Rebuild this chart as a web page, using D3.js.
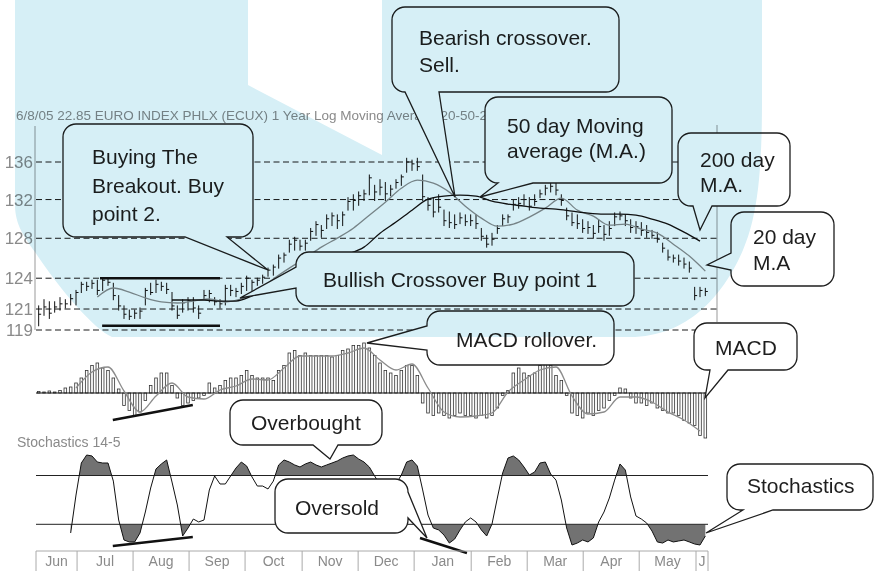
<!DOCTYPE html>
<html>
<head>
    <title>Euro Index - Moving Averages, MACD and Stochastics</title>
    <meta charset="UTF-8">
    <style>
        body {
            margin: 0;
            padding: 0;
            background-color: white;
        }
        svg {
            display: block;
            font-family: "Liberation Sans", Arial, sans-serif;
        }
        .grid {
            stroke: #1a1a1a;
            stroke-width: 1px;
            stroke-dasharray: 6, 3.5;
        }
        .axisText {
            fill: #8a8a8a;
        }
        .callout {
            fill: white;
            stroke: #1e1e1e;
            stroke-width: 1.3px;
        }
        .calloutText {
            fill: #1e1e1e;
            font-size: 21px;
        }
        .thick {
            stroke: #111;
            stroke-width: 2.6px;
        }
    </style>
    <script src="https://d3js.org/d3.v7.min.js"></script>
</head>
<body>
<div id="chart"></div>
<script>
    // one bar = two trading days, Jun 8 2005 .. Jun 8 2006
    var high = [121.3,121.9,121.7,121.7,122.1,121.9,122.4,122.8,123.6,123.6,
        123.8,123.8,124.0,124.0,123.5,122.3,121.3,120.9,120.9,121.1,
        123.0,123.5,123.8,123.6,123.5,122.6,121.3,121.9,122.1,122.1,
        121.3,122.8,122.8,122.1,121.9,123.3,123.3,123.0,123.5,124.2,
        123.8,124.0,124.3,125.0,125.3,126.3,126.5,127.8,128.1,127.8,
        127.8,129.0,129.7,129.3,130.4,130.6,130.4,130.7,132.2,132.5,
        132.8,133.0,134.6,133.5,134.1,133.8,133.5,134.1,134.6,136.4,
        136.2,136.4,134.6,132.2,132.2,132.5,130.9,130.7,130.4,130.6,
        130.4,130.4,130.4,129.0,128.3,128.5,129.3,130.4,130.4,131.9,
        132.2,132.5,132.2,132.5,133.0,133.5,133.8,133.8,132.5,131.1,
        130.6,130.4,129.9,129.7,129.3,129.9,129.3,129.7,130.6,130.7,
        130.4,129.9,129.7,129.6,129.3,128.8,128.6,127.5,126.8,126.3,
        126.3,126.0,125.6,123.1,123.1,123.0];
    var low = [119.4,120.4,120.1,120.7,120.9,121.1,121.4,121.4,122.6,122.8,
        123.0,122.4,122.8,123.3,121.9,120.9,120.1,120.0,120.1,120.1,
        121.4,122.4,122.6,122.8,122.5,120.9,120.1,120.7,120.9,120.7,
        120.1,121.9,121.7,121.4,121.1,121.4,122.3,122.2,122.5,122.8,
        122.8,123.3,123.5,124.2,124.3,125.0,125.6,126.6,126.8,126.8,
        126.8,127.8,128.3,128.1,129.0,129.3,129.0,129.3,130.9,130.9,
        131.4,131.9,132.5,131.9,132.5,131.9,132.4,133.2,133.5,134.9,
        135.1,135.1,131.9,130.9,130.2,130.7,129.3,129.1,129.0,129.5,
        129.3,129.3,129.0,127.8,127.1,127.3,128.5,129.3,129.6,130.9,
        131.1,131.4,130.9,131.4,132.2,132.5,132.8,132.5,131.4,129.9,
        129.3,129.0,128.6,128.5,128.0,128.6,127.8,128.3,129.3,129.9,
        129.3,128.6,128.5,128.3,128.1,128.0,127.6,126.6,125.8,125.6,
        125.3,125.0,124.6,121.9,122.2,122.3];
    var close = [120.5,121.2,120.6,121.2,121.5,121.5,122.0,122.6,123.4,123.2,
        123.5,122.8,123.8,123.6,122.3,121.3,120.5,120.3,120.6,120.8,
        122.8,122.6,123.4,123.2,122.9,121.3,120.4,121.6,121.8,121.1,
        120.6,122.3,122.5,121.7,121.5,123.0,122.8,122.7,123.2,124.0,
        123.6,123.8,124.1,124.8,125.1,126.0,126.3,127.4,127.8,127.2,
        127.5,128.7,129.4,128.8,130.0,130.3,129.8,130.4,131.8,131.9,
        132.4,132.6,134.3,132.8,133.3,132.6,133.1,133.8,134.4,136.0,
        135.8,135.5,132.3,131.4,130.7,131.2,129.8,129.6,129.4,130.1,
        129.7,129.8,129.5,128.2,127.4,127.9,129.0,130.0,130.2,131.5,
        131.6,132.0,131.3,131.8,132.6,133.2,133.4,133.0,131.9,130.3,
        129.6,129.5,129.0,129.1,128.5,129.2,128.4,129.0,130.2,130.3,
        129.8,129.1,129.2,128.8,128.6,128.3,127.9,127.0,126.1,126.0,
        125.7,125.4,125.0,122.3,122.8,122.7];

    // moving averages, read every 3rd bar
    var ma20Start = 11;
    var ma20 = [122.16,123.04,122.64,122.07,121.68,121.58,121.77,121.97,121.68,121.97,
        122.64,123.92,125.00,126.00,127.10,128.02,129.03,130.37,131.73,133.20,
        134.05,133.73,132.78,131.31,130.07,129.24,129.45,130.17,131.10,132.15,
        130.89,130.27,129.34,129.45,128.93,128.52,127.40,126.20,124.70];
    var ma50Start = 25;
    var ma50 = [121.87,121.87,121.87,121.77,121.77,122.26,122.94,123.72,124.51,125.20,
        125.90,126.40,127.10,128.52,129.66,130.89,132.04,132.36,132.46,132.36,
        131.83,131.52,131.31,131.10,131.00,130.79,130.58,130.48,130.48,130.37,
        129.97,129.45,128.62,127.71];

    var macd = [0.03,0.02,0.04,0.02,0.05,0.1,0.12,0.2,0.3,0.45,
        0.55,0.6,0.5,0.45,0.3,0.08,-0.25,-0.35,-0.45,-0.38,
        -0.15,0.15,0.3,0.4,0.4,0.15,-0.1,-0.25,-0.2,-0.15,
        -0.1,-0.05,0.2,0.1,0.15,0.25,0.3,0.3,0.35,0.45,
        0.35,0.3,0.3,0.3,0.25,0.45,0.55,0.8,0.85,0.75,
        0.8,0.75,0.75,0.75,0.75,0.72,0.75,0.85,0.88,0.95,
        0.95,1.0,0.9,0.75,0.6,0.45,0.4,0.35,0.45,0.55,
        0.55,0.35,-0.2,-0.4,-0.45,-0.4,-0.45,-0.5,-0.45,-0.4,
        -0.45,-0.45,-0.5,-0.45,-0.5,-0.45,-0.3,-0.05,0.05,0.4,
        0.5,0.4,0.35,0.4,0.55,0.6,0.55,0.35,0.25,-0.05,
        -0.4,-0.45,-0.5,-0.4,-0.45,-0.35,-0.3,-0.15,-0.05,0.1,
        0.08,-0.1,-0.2,-0.2,-0.25,-0.2,-0.3,-0.35,-0.4,-0.4,
        -0.45,-0.55,-0.6,-0.65,-0.85,-0.9];
    var signalStart = 7;
    var signal = [0.1,0.42,0.52,0.04,-0.38,-0.06,0.2,-0.08,-0.12,0.06,
        0.14,0.28,0.26,0.5,0.74,0.74,0.74,0.8,0.9,0.66,
        0.46,0.58,0.1,-0.38,-0.48,-0.46,-0.4,0.02,0.26,0.46,
        0.52,-0.06,-0.42,-0.38,-0.08,-0.08,-0.18,-0.38,-0.54,-0.76];

    var stochStart = 6;
    var stoch = [16.1,55.0,87.8,96.0,95.0,88.8,87.8,87.8,69.3,29.4,
        8.9,6.9,6.9,16.1,37.6,62.2,81.7,86.8,90.9,68.3,
        44.8,13.0,21.2,30.4,27.4,29.4,60.2,74.5,66.3,66.3,
        74.5,82.7,88.8,84.7,73.5,64.2,64.2,61.2,69.3,85.8,
        90.9,88.8,85.8,83.7,86.8,88.8,85.8,83.7,85.8,87.8,
        89.9,92.9,95.0,96.0,91.9,88.8,83.7,74.5,65.3,58.1,
        60.2,66.3,75.5,88.8,90.9,84.7,60.2,34.5,21.2,19.2,
        14.0,5.8,9.9,19.2,27.4,31.5,27.4,19.2,13.0,25.3,
        51.9,77.6,92.9,95.0,90.9,83.7,75.5,78.6,87.8,88.8,
        76.5,70.3,49.9,21.2,3.8,5.8,8.9,6.9,11.0,27.4,
        37.6,51.9,70.3,86.8,80.6,53.0,33.5,30.4,26.3,18.1,
        6.9,5.8,8.9,6.9,7.9,8.9,6.9,4.8,3.8,13.0];

    var priceTicks = [119, 121, 124, 128, 132, 136];
    var months = ["Jun", "Jul", "Aug", "Sep", "Oct", "Nov", "Dec", "Jan", "Feb", "Mar", "Apr", "May", "J"];
    var monthEdges = [0, 7.7, 18.2, 28.7, 39.2, 49.9, 60.4, 70.9, 81.6, 92.1, 102.6, 113.1, 123.75, 126];

    var width = 874, height = 571;
    var n = high.length;

    var x = d3.scaleLinear().domain([0, n]).range([36, 708]);
    var yPrice = d3.scaleLog().domain([119, 136]).range([330, 162]);
    var yMacd = d3.scaleLinear().domain([-1, 1]).range([443, 343]);
    var yStoch = d3.scaleLinear().domain([0, 100]).range([548.7, 451.1]);

    function cx(i) { return x(i + 0.5); }

    var svg = d3.select("#chart").append("svg")
        .attr("width", width)
        .attr("height", height);

    svg.append("rect").attr("width", width).attr("height", height).attr("fill", "white");

    // ---- price panel ----
    svg.append("text")
        .attr("class", "axisText")
        .attr("x", 16).attr("y", 120)
        .style("font-size", "13.5px")
        .text("6/8/05 22.85 EURO INDEX PHLX (ECUX) 1 Year Log Moving Average 20-50-200");

    svg.append("line").attr("x1", 35).attr("x2", 35).attr("y1", 126).attr("y2", 330)
        .attr("stroke", "#999");
    svg.append("line").attr("x1", 717).attr("x2", 717).attr("y1", 125).attr("y2", 322)
        .attr("stroke", "#999");

    svg.selectAll(".grid").data(priceTicks).enter().append("line")
        .attr("class", "grid")
        .attr("x1", 36).attr("x2", 717)
        .attr("y1", function (d) { return yPrice(d); })
        .attr("y2", function (d) { return yPrice(d); });

    svg.selectAll(".priceLabel").data(priceTicks).enter().append("text")
        .attr("class", "axisText priceLabel")
        .attr("x", 33)
        .attr("y", function (d) { return yPrice(d); })
        .attr("dy", "0.36em")
        .attr("text-anchor", "end")
        .style("font-size", "17px")
        .text(function (d) { return d; });

    var bars = svg.append("g").attr("stroke", "#111").attr("stroke-width", 1);
    high.forEach(function (h, i) {
        bars.append("line")
            .attr("x1", cx(i)).attr("x2", cx(i))
            .attr("y1", yPrice(h) - 0.5).attr("y2", yPrice(low[i]) + 0.5);
        bars.append("line")
            .attr("x1", cx(i)).attr("x2", cx(i) + 2.5)
            .attr("y1", yPrice(close[i])).attr("y2", yPrice(close[i]));
    });

    var priceLine = d3.line()
        .x(function (d) { return cx(d.i); })
        .y(function (d) { return yPrice(d.v); })
        .curve(d3.curveMonotoneX);

    var ma20Pts = ma20.map(function (v, k) { return {i: ma20Start + k * 3, v: v}; });
    var ma50Pts = ma50.map(function (v, k) { return {i: ma50Start + k * 3, v: v}; });

    svg.append("path").datum(ma20Pts)
        .attr("d", priceLine)
        .attr("fill", "none").attr("stroke", "#8c8c8c").attr("stroke-width", 1.3);
    svg.append("path").datum(ma50Pts)
        .attr("d", priceLine)
        .attr("fill", "none").attr("stroke", "#111").attr("stroke-width", 1.3);

    // resistance / support marks
    svg.append("line").attr("class", "thick")
        .attr("x1", x(12)).attr("x2", x(34.5))
        .attr("y1", yPrice(124)).attr("y2", yPrice(124));
    svg.append("line").attr("class", "thick")
        .attr("x1", x(12.4)).attr("x2", x(34.5))
        .attr("y1", yPrice(119.4)).attr("y2", yPrice(119.4));

    // ---- MACD panel ----
    svg.append("g").selectAll("rect").data(macd).enter().append("rect")
        .attr("x", function (d, i) { return cx(i) - 1.3; })
        .attr("width", 2.6)
        .attr("y", function (d) { return Math.min(yMacd(d), yMacd(0)); })
        .attr("height", function (d) { return Math.abs(yMacd(d) - yMacd(0)); })
        .attr("fill", "white")
        .attr("stroke", "#333")
        .attr("stroke-width", 0.8);

    svg.append("line").attr("x1", 36).attr("x2", 706)
        .attr("y1", yMacd(0)).attr("y2", yMacd(0))
        .attr("stroke", "#111").attr("stroke-width", 1.2);

    var signalPts = signal.map(function (v, k) { return {i: signalStart + k * 3, v: v}; });
    svg.append("path").datum(signalPts)
        .attr("d", d3.line()
            .x(function (d) { return cx(d.i); })
            .y(function (d) { return yMacd(d.v); })
            .curve(d3.curveMonotoneX))
        .attr("fill", "none").attr("stroke", "#8c8c8c").attr("stroke-width", 1.3);

    svg.append("line").attr("class", "thick")
        .attr("x1", x(14.4)).attr("x2", x(29.4))
        .attr("y1", yMacd(-0.54)).attr("y2", yMacd(-0.24));

    // ---- Stochastics panel ----
    svg.append("text")
        .attr("class", "axisText")
        .attr("x", 17).attr("y", 447)
        .style("font-size", "14px")
        .text("Stochastics 14-5");

    var stochPts = stoch.map(function (v, k) { return {i: stochStart + k, v: v}; });

    var defs = svg.append("defs");
    defs.append("clipPath").attr("id", "clipHigh").append("rect")
        .attr("x", 0).attr("y", 0).attr("width", width).attr("height", yStoch(75));
    defs.append("clipPath").attr("id", "clipLow").append("rect")
        .attr("x", 0).attr("y", yStoch(25)).attr("width", width).attr("height", 100);

    svg.append("path").datum(stochPts)
        .attr("clip-path", "url(#clipHigh)")
        .attr("fill", "#727272")
        .attr("d", d3.area()
            .x(function (d) { return cx(d.i); })
            .y0(yStoch(75))
            .y1(function (d) { return yStoch(d.v); }));
    svg.append("path").datum(stochPts)
        .attr("clip-path", "url(#clipLow)")
        .attr("fill", "#727272")
        .attr("d", d3.area()
            .x(function (d) { return cx(d.i); })
            .y0(yStoch(25))
            .y1(function (d) { return yStoch(d.v); }));

    [75, 25].forEach(function (lv) {
        svg.append("line").attr("x1", 36).attr("x2", 708)
            .attr("y1", yStoch(lv)).attr("y2", yStoch(lv))
            .attr("stroke", "#222").attr("stroke-width", 1);
    });

    svg.append("path").datum(stochPts)
        .attr("fill", "none").attr("stroke", "#111").attr("stroke-width", 1)
        .attr("d", d3.line()
            .x(function (d) { return cx(d.i); })
            .y(function (d) { return yStoch(d.v); }));

    svg.append("line").attr("class", "thick")
        .attr("x1", x(14.4)).attr("x2", x(29.4))
        .attr("y1", yStoch(2.8)).attr("y2", yStoch(12));
    svg.append("line").attr("class", "thick")
        .attr("x1", x(72)).attr("x2", x(80.8))
        .attr("y1", yStoch(11)).attr("y2", yStoch(-4.4));

    // ---- month axis ----
    svg.append("line").attr("x1", x(0)).attr("x2", x(n))
        .attr("y1", 551).attr("y2", 551)
        .attr("stroke", "#aaa");
    svg.selectAll(".monthTick").data(monthEdges).enter().append("line")
        .attr("x1", function (d) { return x(d); })
        .attr("x2", function (d) { return x(d); })
        .attr("y1", 551).attr("y2", 571)
        .attr("stroke", "#aaa");
    svg.selectAll(".monthLabel").data(months).enter().append("text")
        .attr("class", "axisText")
        .attr("x", function (d, i) { return (x(monthEdges[i]) + x(monthEdges[i + 1])) / 2; })
        .attr("y", 566)
        .attr("text-anchor", "middle")
        .style("font-size", "14px")
        .text(function (d) { return d; });

    // ---- callouts ----
    var callouts = [
        {x: 63, y: 124, w: 190, h: 113, tail: {side: "bottom", a: 185, b: 227, tip: [268, 270]},
            lines: ["Buying The", "Breakout. Buy", "point 2."], tx: 92, ty: [164, 193, 221]},
        {x: 392, y: 7, w: 227, h: 85, tail: {side: "bottom", a: 405, b: 439, tip: [455, 197]},
            lines: ["Bearish crossover.", "Sell."], tx: 419, ty: [45, 72]},
        {x: 485, y: 97, w: 187, h: 86, tail: {side: "bottom", a: 498, b: 533, tip: [480, 197]},
            lines: ["50 day Moving", "average (M.A.)"], tx: 507, ty: [133, 158]},
        {x: 678, y: 133, w: 112, h: 73, tail: {side: "bottom", a: 693, b: 712, tip: [700, 230]},
            lines: ["200 day", "M.A."], tx: 700, ty: [167, 192]},
        {x: 731, y: 212, w: 103, h: 74, tail: {side: "left", a: 253, b: 270, tip: [707, 265]},
            lines: ["20 day", "M.A"], tx: 753, ty: [244, 270]},
        {x: 296, y: 252, w: 338, h: 54, tail: {side: "left", a: 267, b: 288, tip: [240, 298]},
            lines: ["Bullish Crossover Buy point 1"], tx: 323, ty: [287]},
        {x: 427, y: 311, w: 187, h: 54, tail: {side: "left", a: 326, b: 350, tip: [367, 343]},
            lines: ["MACD rollover."], tx: 456, ty: [347]},
        {x: 694, y: 323, w: 103, h: 47, tail: {side: "bottom", a: 710, b: 728, tip: [705, 398]},
            lines: ["MACD"], tx: 715, ty: [355]},
        {x: 230, y: 400, w: 152, h: 45, tail: {side: "bottom", a: 313, b: 338, tip: [330, 459]},
            lines: ["Overbought"], tx: 251, ty: [430]},
        {x: 275, y: 479, w: 133, h: 54, tail: {side: "right", a: 492, b: 518, tip: [427, 538]},
            lines: ["Oversold"], tx: 295, ty: [515]},
        {x: 727, y: 464, w: 146, h: 46, tail: {side: "bottom", a: 743, b: 773, tip: [706, 533]},
            lines: ["Stochastics"], tx: 747, ty: [493]}
    ];

    function calloutPath(c) {
        var r = 13, t = c.tail,
            x0 = c.x, y0 = c.y, x1 = c.x + c.w, y1 = c.y + c.h,
            tip = "L" + t.tip[0] + "," + t.tip[1],
            p = [];
        p.push("M" + (x0 + r) + "," + y0, "H" + (x1 - r));
        p.push("A" + r + "," + r + " 0 0 1 " + x1 + "," + (y0 + r));
        if (t.side === "right") p.push("V" + t.a, tip, "L" + x1 + "," + t.b);
        p.push("V" + (y1 - r));
        p.push("A" + r + "," + r + " 0 0 1 " + (x1 - r) + "," + y1);
        if (t.side === "bottom") p.push("H" + t.b, tip, "L" + t.a + "," + y1);
        p.push("H" + (x0 + r));
        p.push("A" + r + "," + r + " 0 0 1 " + x0 + "," + (y1 - r));
        if (t.side === "left") p.push("V" + t.b, tip, "L" + x0 + "," + t.a);
        p.push("V" + (y0 + r));
        p.push("A" + r + "," + r + " 0 0 1 " + (x0 + r) + "," + y0, "Z");
        return p.join(" ");
    }

    var cg = svg.append("g").selectAll("g").data(callouts).enter().append("g");
    cg.append("path")
        .attr("class", "callout")
        .attr("d", calloutPath);
    cg.each(function (c) {
        var g = d3.select(this);
        c.lines.forEach(function (s, k) {
            g.append("text")
                .attr("class", "calloutText")
                .attr("x", c.tx).attr("y", c.ty[k])
                .text(s);
        });
    });

    // ---- light blue backdrop (multiplied over everything) ----
    svg.append("path")
        .attr("d", "M15,0 H762 V100 C762,170 758,215 743,250 C725,292 690,337 630,337 H112 " +
            "C95,330 60,290 35,252 C25,238 15,225 15,205 Z M248,0 H382 V155 L248,85 Z")
        .attr("fill", "rgb(214,239,246)")
        .attr("fill-rule", "evenodd")
        .style("mix-blend-mode", "multiply");
</script>
</body>
</html>
